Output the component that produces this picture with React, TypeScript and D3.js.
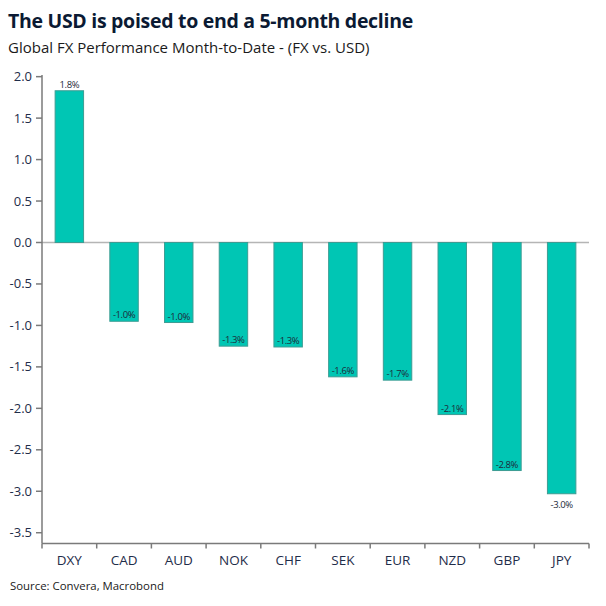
import React from "react";
import * as d3 from "d3";

const categories = ["DXY", "CAD", "AUD", "NOK", "CHF", "SEK", "EUR", "NZD", "GBP", "JPY"];
const values = [1.83, -0.95, -0.965, -1.25, -1.26, -1.62, -1.66, -2.075, -2.75, -3.03];
const valueLabels = ["1.8%", "-1.0%", "-1.0%", "-1.3%", "-1.3%", "-1.6%", "-1.7%", "-2.1%", "-2.8%", "-3.0%"];
const yTicks = [2.0, 1.5, 1.0, 0.5, 0.0, -0.5, -1.0, -1.5, -2.0, -2.5, -3.0, -3.5];
const title = "The USD is poised to end a 5-month decline";
const subtitle = "Global FX Performance Month-to-Date - (FX vs. USD)";
const source = "Source: Convera, Macrobond";

export default function App() {
  const W = 606, H = 606;
  const left = 42, right = 589, top = 75, bottom = 543.5;
  const y = d3.scaleLinear().domain([2.02, -3.63]).range([top, bottom]);
  const x = d3.scaleBand().domain(categories).range([left, right]).paddingInner(0.48).paddingOuter(0.24);
  const xTicks = d3.scaleBand().domain(categories).range([left, right]);
  const font = "'Segoe UI', 'Open Sans', 'Noto Sans', sans-serif";
  const tickColor = "#1f2d4a";
  return (
    <svg width={W} height={H} style={{ position: "absolute", left: 0, top: 0, background: "#fff" }} fontFamily={font}>
      <text x={8} y={28} fontSize={19.5} fontWeight={700} letterSpacing={-0.3} fill="#0b1a33">{title}</text>
      <text x={8} y={53} fontSize={15} fill="#1a1a1a">{subtitle}</text>
      {/* zero line */}
      <line x1={left} x2={right} y1={y(0)} y2={y(0)} stroke="#b5b5b5" strokeWidth={1.5} />
      {values.map((v, i) => {
        const c = categories[i];
        const y0 = y(Math.max(0, v));
        const y1 = y(Math.min(0, v));
        const bx = x(c)!;
        const cx = bx + x.bandwidth() / 2;
        let ly: number;
        if (v >= 0) ly = y(v) - 3;
        else if (i === categories.length - 1) ly = y(v) + 14;
        else ly = y(v) - 3;
        return (
          <g key={c}>
            <rect x={bx} y={y0} width={x.bandwidth()} height={y1 - y0} fill="#00c6b4" stroke="#3d9c93" strokeWidth={1} />
            <text x={cx} y={ly} fontSize={9.5} textAnchor="middle" fill="#1e2a3a" letterSpacing={-0.4}>{valueLabels[i]}</text>
          </g>
        );
      })}
      {/* y axis */}
      <line x1={left} x2={left} y1={top} y2={bottom} stroke="#7a7a7a" strokeWidth={1.5} />
      {yTicks.map((t) => (
        <g key={t}>
          <line x1={left - 6} x2={left} y1={y(t)} y2={y(t)} stroke="#7a7a7a" strokeWidth={1.5} />
          <text x={left - 10} y={y(t) + 4.5} fontSize={13} textAnchor="end" fill={tickColor}>{t.toFixed(1)}</text>
        </g>
      ))}
      {/* x axis */}
      <line x1={left} x2={right} y1={bottom} y2={bottom} stroke="#7a7a7a" strokeWidth={1.5} />
      {categories.map((c) => (
        <g key={c}>
          <line x1={xTicks(c)!} x2={xTicks(c)!} y1={bottom} y2={bottom + 5} stroke="#7a7a7a" strokeWidth={1.5} />
          <text x={xTicks(c)! + xTicks.bandwidth() / 2} y={565} fontSize={13.5} textAnchor="middle" fill={tickColor}>{c}</text>
        </g>
      ))}
      <line x1={right} x2={right} y1={bottom} y2={bottom + 5} stroke="#7a7a7a" strokeWidth={1.5} />
      <text x={10} y={590} fontSize={11.4} fill="#1a1a1a">{source}</text>
    </svg>
  );
}
